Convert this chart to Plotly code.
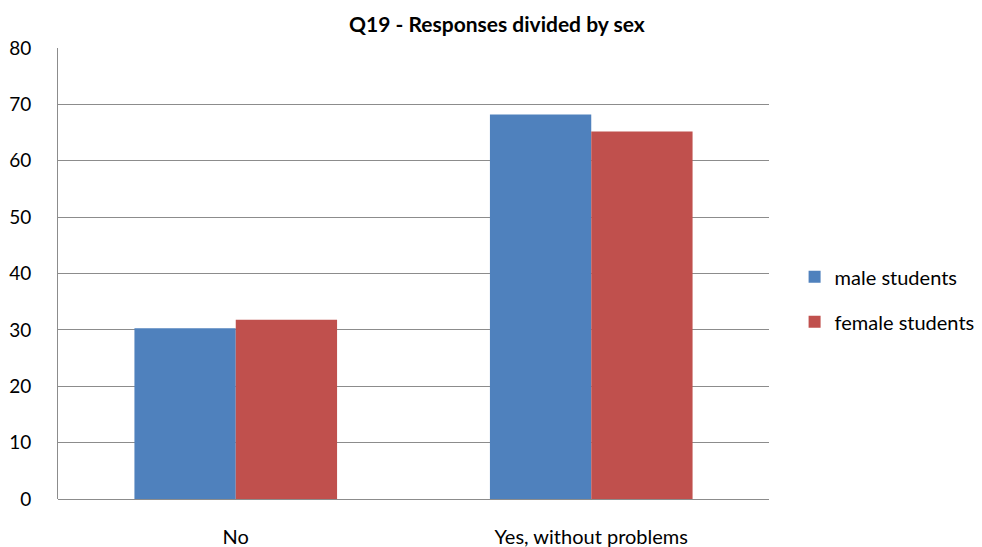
import plotly.graph_objects as go

categories = ["No", "Yes, without problems"]
male_students = [30.3, 68.2]
female_students = [31.8, 65.2]
y_ticks = [0, 10, 20, 30, 40, 50, 60, 70, 80]

FONT = "Lato, 'Open Sans', sans-serif"

fig = go.Figure()
fig.add_trace(go.Bar(
    x=categories, y=male_students, name="male students",
    marker=dict(color="#4F81BD", line=dict(width=0)), legendgroup="m",
))
fig.add_trace(go.Bar(
    x=categories, y=female_students, name="female students",
    marker=dict(color="#C0504D", line=dict(width=0)), legendgroup="f",
))

fig.update_layout(
    width=982, height=547,
    margin=dict(l=58, r=213, t=48, b=48, autoexpand=False),
    paper_bgcolor="white", plot_bgcolor="white",
    barmode="group", bargap=0.43, bargroupgap=0,
    font=dict(family=FONT, size=19, color="black"),
    title=dict(text="<b>Q19 - Responses divided by sex</b>", x=0.506, xanchor="center",
               y=0.955, yanchor="middle", font=dict(size=21, family=FONT)),
    legend=dict(x=1.036, y=0.443, xanchor="left", yanchor="middle",
                font=dict(size=20), tracegroupgap=16, traceorder="grouped",
                itemwidth=30, bgcolor="rgba(0,0,0,0)"),
    xaxis=dict(showgrid=False, showline=False, ticks="", ticklabelstandoff=24,
               tickfont=dict(size=20), automargin=False),
    yaxis=dict(range=[0, 80], tickvals=y_ticks, showgrid=True, gridcolor="#8C8C8C",
               gridwidth=1, showline=True, linecolor="#8C8C8C", linewidth=1,
               ticks="", ticklabelstandoff=22, zeroline=True, zerolinecolor="#8C8C8C",
               zerolinewidth=1, tickfont=dict(size=19), automargin=False),
)

fig.write_html("out.html")
